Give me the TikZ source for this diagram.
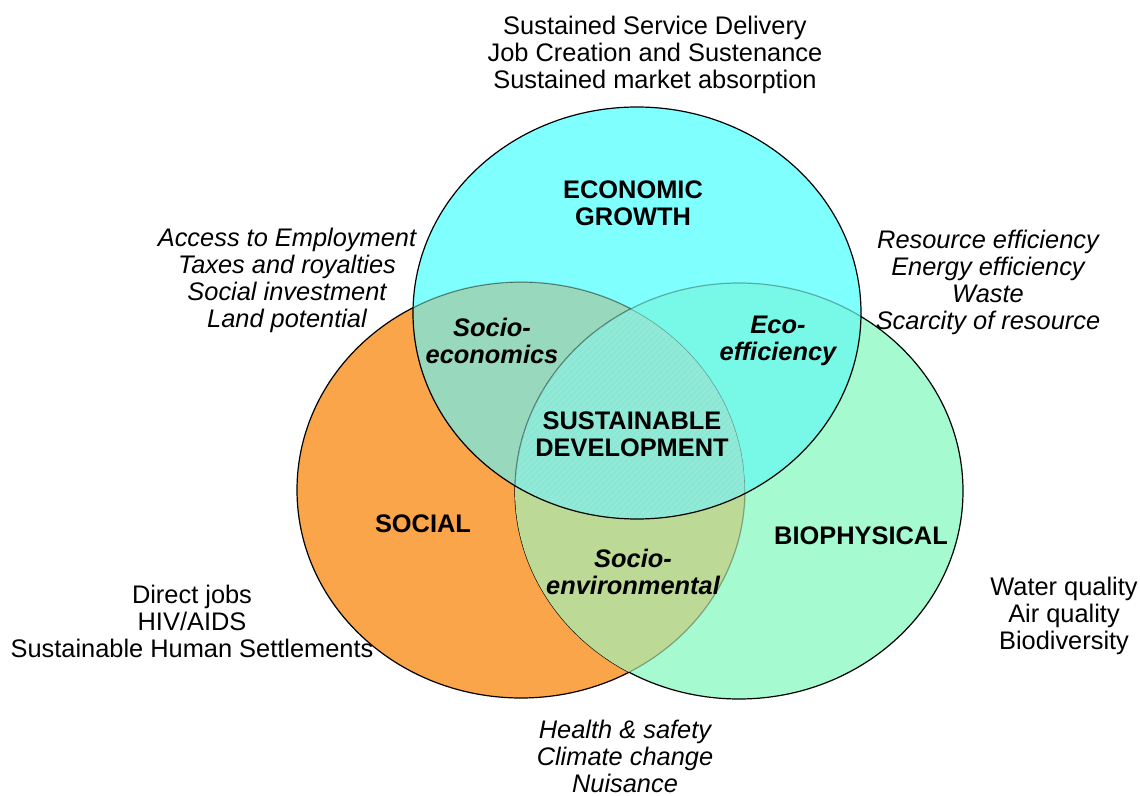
\documentclass[tikz,border=0pt]{standalone}
\usepackage{fontspec}
\setmainfont{Liberation Sans}
\usetikzlibrary{patterns}
\definecolor{econcol}{HTML}{80FFFF}
\definecolor{soccol}{HTML}{FBA54A}
\definecolor{biocol}{HTML}{A5FAD0}
\definecolor{ecsoccol}{HTML}{98D8BC}
\definecolor{ecbiocol}{HTML}{78F8E6}
\definecolor{socbiocol}{HTML}{BCD996}
\definecolor{sdcol}{HTML}{8CE8D4}
\newcommand{\ecopath}{(econ) ellipse [x radius=112pt, y radius=103pt]}
\newcommand{\socpath}{(soc) ellipse [x radius=112pt, y radius=104pt]}
\newcommand{\biopath}{(bio) ellipse [x radius=112pt, y radius=104pt]}
\begin{document}
\begin{tikzpicture}[x=0.5pt,y=-0.5pt,
  lbl/.style={font=\fontsize{12.7}{13.5}\selectfont,align=center,inner sep=0pt},
  ital/.style={lbl,font=\fontsize{12.7}{13.5}\selectfont\itshape},
  head/.style={lbl,font=\fontsize{12.7}{13.5}\selectfont\bfseries},
  area/.style={lbl,font=\fontsize{12.7}{13.5}\selectfont\bfseries\itshape},
  outline/.style={draw=black,line width=0.6pt},
  faded/.style={draw=black,draw opacity=0.3,line width=0.6pt}]
\useasboundingbox (0,0) rectangle (1140,796);
\coordinate (econ) at (637,313);
\coordinate (soc) at (521,490);
\coordinate (bio) at (739,491);
% social and biophysical
\fill[soccol] \socpath;
\draw[outline] \socpath;
\fill[biocol] \biopath;
\draw[outline] \biopath;
\begin{scope}
  \clip \biopath;
  \fill[socbiocol] \socpath;
  \draw[faded] \socpath;
\end{scope}
% economic growth on top
\fill[econcol] \ecopath;
\begin{scope}
  \clip \ecopath;
  \fill[ecsoccol] \socpath;
  \draw[faded] \socpath;
  \fill[ecbiocol] \biopath;
  \draw[faded] \biopath;
  \begin{scope}
    \clip \socpath;
    \fill[sdcol] \biopath;
    \fill[pattern=north east lines,pattern color=sdcol!88!white] \biopath;
    \draw[faded] \socpath;
    \draw[faded] \biopath;
  \end{scope}
\end{scope}
\draw[outline] \ecopath;
% circle and overlap titles
\node[head] (econtxt) at (633,203) {ECONOMIC\\GROWTH};
\node[head] (soctxt) at (423,524) {SOCIAL};
\node[head] (biotxt) at (861,536) {BIOPHYSICAL};
\node[head] (sdtxt) at (632,434) {SUSTAINABLE\\DEVELOPMENT};
\node[area] (socecotxt) at (492,341) {Socio-\\economics};
\node[area] (ecoefftxt) at (778,341) {Eco-\\efficiency};
\node[area] (socenvtxt) at (633,572) {Socio-\\environmental};
% indicator lists
\node[lbl] (econlist) at (655,55) {Sustained Service Delivery\\Job Creation and Sustenance\\Sustained market absorption};
\node[ital] (socecolist) at (287,280) {Access to Employment\\Taxes and royalties\\Social investment\\Land potential};
\node[ital] (ecoefflist) at (988,282) {Resource efficiency\\Energy efficiency\\Waste\\Scarcity of resource};
\node[lbl] (soclist) at (192,621) {Direct jobs\\HIV/AIDS\\Sustainable Human Settlements};
\node[lbl] (biolist) at (1064,616) {Water quality\\Air quality\\Biodiversity};
\node[ital] (socenvlist) at (625,756) {Health \& safety\\Climate change\\Nuisance};
\end{tikzpicture}
\end{document}
